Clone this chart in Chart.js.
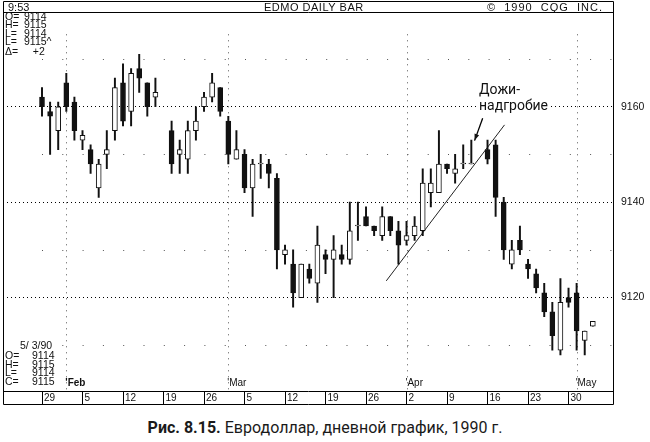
<!DOCTYPE html>
<html>
<head>
<meta charset="utf-8">
<script src="https://cdn.jsdelivr.net/npm/chart.js@4.4.1/dist/chart.umd.min.js"></script>
<style>
  html, body { margin: 0; padding: 0; background: #fff; }
  #wrap { position: relative; width: 650px; height: 442px; }
  #chart { position: absolute; left: 0; top: 0; }
  #caption { position: absolute; left: 0; top: 418px; width: 650px; text-align: center;
             font: 16px Roboto, "Noto Sans", sans-serif; color: #1a1a1a; }
  #caption b { font-weight: 700; }
</style>
</head>
<body>
<div id="wrap">
  <canvas id="chart" width="650" height="410"></canvas>
  <div id="caption"><b>Рис. 8.15.</b> Евродоллар, дневной график, 1990 г.</div>
</div>
<script>
// one slot per weekday, 29 Jan .. 3 May 1990 (null = no trading)
const OPEN = [
  9162, 9159, 9155, 9165, 9161,  9153, 9151, 9143, 9150, 9155,
  9165, 9159, 9168, 9165, 9162,  null, 9155, 9150, 9149, 9155,
  9160, 9162, 9164, 9157, 9149,  9150, 9143, 9148, 9148, 9145,
  9129, 9127, 9120, 9126, 9123,  9129, 9128, 9129, 9128, 9135,
  9137, 9135, 9133, 9137, 9134,  9132, 9133, 9134, 9142, 9142,
  9148, 9146, 9148, 9148, null,  9151, 9152, 9140, 9127, 9132,
  9127, 9125, 9121, 9117, 9109,  9120, 9121, 9111, 9114
];
const HIGH = [
  9164, 9161, 9161, 9167, 9162,  9155, 9152, 9149, 9155, 9166,
  9169, 9168, 9171, 9165, 9166,  null, 9157, 9153, 9157, 9160,
  9163, 9167, 9164, 9158, 9155,  9151, 9149, 9150, 9149, 9146,
  9131, 9130, 9127, 9127, 9135,  9130, 9133, 9131, 9140, 9140,
  9139, 9135, 9139, 9137, 9136,  9136, 9137, 9147, 9147, 9155,
  9148, 9150, 9152, 9153, null,  9153, 9153, 9141, 9132, 9135,
  9128, 9126, 9123, 9119, 9124,  9122, 9123, 9113, 9115
];
const LOW = [
  9158, 9150, 9151, 9159, 9153,  9151, 9146, 9141, 9147, 9153,
  9156, 9156, 9163, 9158, 9160,  null, 9146, 9146, 9146, 9153,
  9159, 9161, 9158, 9148, 9149,  9142, 9137, 9145, 9143, 9126,
  9127, 9118, 9120, 9123, 9119,  9125, 9120, 9127, 9127, 9132,
  9135, 9133, 9132, 9133, 9127,  9131, 9132, 9133, 9139, 9142,
  9146, 9144, 9147, 9148, null,  9148, 9137, 9128, 9126, 9129,
  9124, 9121, 9116, 9109, 9108,  9118, 9109, 9108, 9114
];
const CLOSE = [
  9160, 9158, 9160, 9160, 9155,  9154, 9148, 9148, 9151, 9164,
  9157, 9167, 9166, 9160, 9163,  null, 9148, 9151, 9155, 9157,
  9162, 9165, 9159, 9150, 9151,  9143, 9148, 9148, 9146, 9130,
  9130, 9121, 9127, 9124, 9131,  9128, 9130, 9128, 9134, 9135,
  9135, 9134, 9137, 9134, 9131,  9133, 9135, 9144, 9144, 9148,
  9147, 9147, 9148, 9148, null,  9149, 9141, 9130, 9130, 9130,
  9126, 9122, 9117, 9112, 9119,  9119, 9113, 9113, 9115
];

const WEEK_SLOTS = [0, 5, 10, 15, 20, 25, 30, 35, 40, 45, 50, 55, 60, 65];
const WEEK_LABELS = ['29', '5', '12', '19', '26', '5', '12', '19', '26', '2', '9', '16', '23', '30'];
const MONTH_SLOTS = [3, 23, 45, 66];
const MONTH_LABELS = ["'Feb", "'Mar", "'Apr", "'May"];
const PRICE_TICKS = [9120, 9140, 9160];
const MINOR_PRICES = [9110, 9130, 9150, 9170];

// trend line under the April rally, and the arrow to the gravestone doji
const TREND_X = [42.5, 57.1];
const TREND_Y = [9123.5, 9156.2];
const ARROW_X = [54.4, 53.4];
const ARROW_Y = [9157.6, 9152.9];
const NOTE_LINES = ['Дожи-', 'надгробие'];
const NOTE_X = 53.95;
const NOTE_Y = [9163.4, 9160.1];

const candles = [];
OPEN.forEach((o, i) => {
  if (o === null) return;
  candles.push({ slot: i, o: o, h: HIGH[i], l: LOW[i], c: CLOSE[i] });
});

const SANS = '"Liberation Sans", "DejaVu Sans", sans-serif';

const framePlugin = {
  id: 'frame',
  beforeDatasetsDraw(chart) {
    const { ctx, chartArea: a, scales: { x, y } } = chart;
    ctx.save();
    ctx.strokeStyle = '#555';
    ctx.lineWidth = 1;
    ctx.setLineDash([1, 19.3]);
    MINOR_PRICES.forEach(p => {
      const py = Math.round(y.getPixelForValue(p)) + 0.5;
      ctx.beginPath();
      ctx.moveTo(x.getPixelForValue(0), py);
      ctx.lineTo(a.right, py);
      ctx.stroke();
    });
    ctx.setLineDash([1, 5]);
    MONTH_SLOTS.forEach(s => {
      const px = Math.round(x.getPixelForValue(s)) + 0.5;
      ctx.beginPath();
      ctx.moveTo(px, a.top + 20);
      ctx.lineTo(px, a.bottom);
      ctx.stroke();
    });
    ctx.restore();
  },
  afterDraw(chart) {
    const { ctx, chartArea: a, scales: { x, y } } = chart;
    ctx.save();
    ctx.strokeStyle = '#000';
    ctx.lineWidth = 1;
    // outer frame, header row, bottom of date row
    ctx.beginPath();
    ctx.moveTo(3.5, 1.5); ctx.lineTo(a.right + 0.5, 1.5);
    ctx.moveTo(3.5, 1.5); ctx.lineTo(3.5, 404.5);
    ctx.moveTo(3.5, 404.5); ctx.lineTo(a.right + 0.5, 404.5);
    ctx.moveTo(3.5, 12.5); ctx.lineTo(a.right + 0.5, 12.5);
    ctx.moveTo(a.right + 0.5, 1.5); ctx.lineTo(a.right + 0.5, 404.5);
    ctx.stroke();

    ctx.fillStyle = '#111';
    ctx.textBaseline = 'middle';
    ctx.font = '11px ' + SANS;
    ctx.textAlign = 'left';
    ctx.fillText('9:53', 8, 7.5);
    ctx.letterSpacing = '0.5px';
    ctx.fillText('EDMO DAILY BAR', 264, 7.5);
    ctx.textAlign = 'right';
    ctx.letterSpacing = '1px';
    ctx.fillText('©  1990  CQG  INC.', 603, 7.5);
    ctx.letterSpacing = '0px';

    // info boxes
    ctx.textAlign = 'left';
    ctx.font = '10.5px ' + SANS;
    const top = [['O=', '9114'], ['H=', '9115'], ['L=', '9114'], ['L=', '9115^'], ['Δ=', '   +2']];
    const topY = [17, 25.5, 34, 42.5, 52];
    top.forEach((r, i) => { ctx.fillText(r[0], 5, topY[i]); ctx.fillText(r[1], 24, topY[i]); });
    ctx.fillText('5/ 3/90', 20, 346);
    const bot = [['O=', '9114'], ['H=', '9115'], ['L=', '9114'], ['C=', '9115']];
    const botY = [356.5, 365, 373.5, 382.5];
    bot.forEach((r, i) => { ctx.fillText(r[0], 5, botY[i]); ctx.fillText(r[1], 32, botY[i]); });

    // month marks above the date row
    MONTH_SLOTS.forEach((s, i) => {
      ctx.font = (i === 0 ? 'bold ' : '') + '10px ' + SANS;
      ctx.fillText(MONTH_LABELS[i], x.getPixelForValue(s) - 1, 383);
    });

    // arrow to the gravestone doji
    const x0 = x.getPixelForValue(ARROW_X[0]), y0 = y.getPixelForValue(ARROW_Y[0]);
    const x1 = x.getPixelForValue(ARROW_X[1]), y1 = y.getPixelForValue(ARROW_Y[1]);
    ctx.beginPath();
    ctx.moveTo(x0, y0); ctx.lineTo(x1, y1);
    ctx.lineWidth = 1.3;
    ctx.stroke();
    const ang = Math.atan2(y1 - y0, x1 - x0);
    ctx.beginPath();
    ctx.moveTo(x1, y1);
    ctx.lineTo(x1 - 7 * Math.cos(ang - 0.35), y1 - 7 * Math.sin(ang - 0.35));
    ctx.lineTo(x1 - 7 * Math.cos(ang + 0.35), y1 - 7 * Math.sin(ang + 0.35));
    ctx.closePath();
    ctx.fillStyle = '#111';
    ctx.fill();

    // note text
    ctx.font = '14px Roboto, "Noto Sans", sans-serif';
    const nx = x.getPixelForValue(NOTE_X);
    NOTE_LINES.forEach((t, i) => {
      const ny = y.getPixelForValue(NOTE_Y[i]);
      const w = ctx.measureText(t).width;
      ctx.fillStyle = '#fff';
      ctx.fillRect(nx - 3, ny - 8, w + 5, 16);
      ctx.fillStyle = '#111';
      ctx.fillText(t, nx, ny);
    });
    ctx.restore();
  }
};

new Chart(document.getElementById('chart'), {
  type: 'bar',
  data: {
    datasets: [
      {
        label: 'body',
        data: candles.map(k => ({ x: k.slot, y: [Math.min(k.o, k.c), Math.max(k.o, k.c)] })),
        backgroundColor: ctx => (candles[ctx.dataIndex].c < candles[ctx.dataIndex].o ? '#111' : '#fff'),
        borderColor: '#111',
        borderWidth: 1,
        borderSkipped: false,
        barThickness: 5,
        minBarLength: 1,
        grouped: false
      },
      {
        label: 'wick',
        data: candles.map(k => ({ x: k.slot, y: [k.l, k.h] })),
        backgroundColor: '#111',
        borderWidth: 0,
        barThickness: 1.3,
        grouped: false
      },
      {
        type: 'line',
        label: 'trend',
        data: TREND_X.map((v, i) => ({ x: v, y: TREND_Y[i] })),
        borderColor: '#222',
        borderWidth: 1,
        pointRadius: 0
      }
    ]
  },
  options: {
    responsive: false,
    animation: false,
    devicePixelRatio: 1,
    layout: { padding: { left: 3, top: 12, right: 0, bottom: 0 } },
    plugins: { legend: { display: false }, tooltip: { enabled: false } },
    scales: {
      x: {
        type: 'linear',
        position: 'bottom',
        offset: false,
        min: -4.815,
        max: 70.49,
        afterBuildTicks: s => { s.ticks = WEEK_SLOTS.map(v => ({ value: v })); },
        afterFit: s => { s.height = 19; },
        grid: { offset: false, drawOnChartArea: false, drawTicks: true, tickLength: 13, color: '#000', tickColor: '#000' },
        border: { display: true, color: '#000', width: 1 },
        ticks: {
          autoSkip: false,
          maxRotation: 0,
          align: 'start',
          labelOffset: 2,
          padding: -12,
          color: '#111',
          font: { family: SANS, size: 10 },
          callback: (v, i) => WEEK_LABELS[i]
        }
      },
      y: {
        position: 'right',
        min: 9100.42,
        max: 9179.375,
        afterBuildTicks: s => { s.ticks = PRICE_TICKS.map(v => ({ value: v })); },
        afterFit: s => { s.width = 37; },
        grid: { drawTicks: false, color: '#000', lineWidth: 1 },
        border: { display: true, color: '#000', width: 1, dash: [1, 3] },
        ticks: { padding: 8, color: '#111', font: { family: SANS, size: 10.5 }, callback: v => String(v) }
      }
    }
  },
  plugins: [framePlugin]
});
</script>
</body>
</html>
